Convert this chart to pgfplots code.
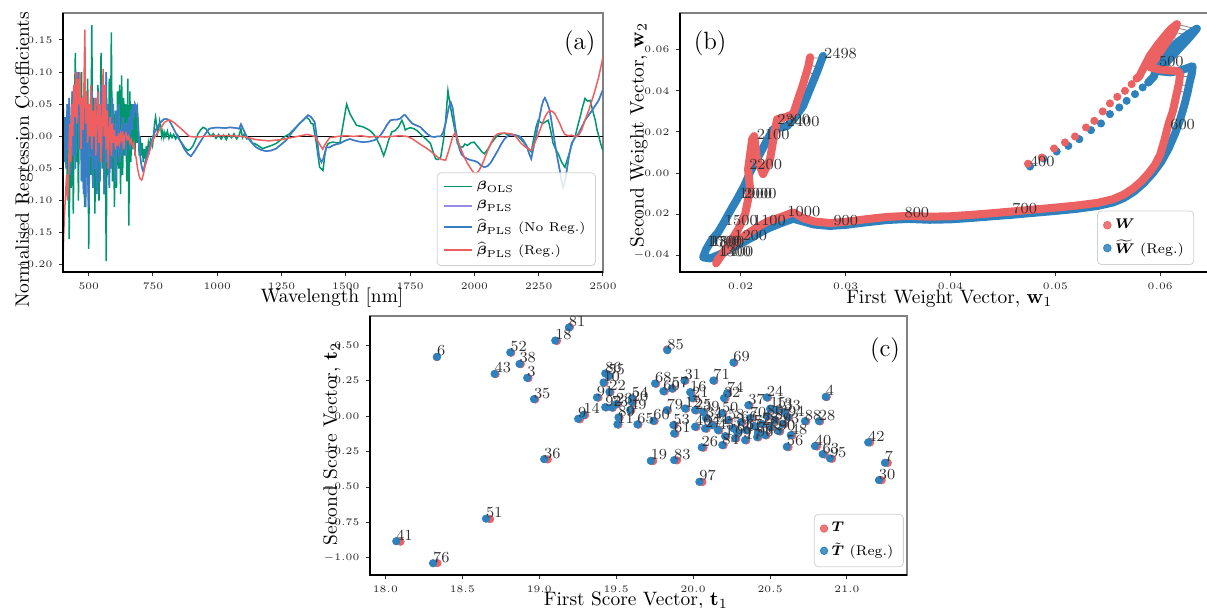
\documentclass[border=0pt]{standalone}
\usepackage{amsmath}
\usepackage{pgfplots}
\usepackage{pgfplotstable}
\pgfplotsset{compat=1.18}

\definecolor{olsgreen}{RGB}{0,150,110}
\definecolor{plspurple}{RGB}{150,140,230}
\definecolor{plsblue}{RGB}{55,125,195}
\definecolor{regred}{RGB}{240,95,95}
\definecolor{wred}{RGB}{236,98,98}
\definecolor{wblue}{RGB}{45,130,190}

% (a) regression coefficients, wavelength vs value
\pgfplotstableread{
w b
400 0.000
404 0.020
408 -0.030
412 0.030
416 -0.060
420 0.050
424 -0.160
428 0.020
432 -0.080
436 0.060
440 -0.120
444 0.030
448 0.130
452 -0.040
456 0.060
460 -0.100
464 0.080
468 -0.020
472 0.100
476 -0.060
480 0.050
484 -0.110
488 0.070
492 -0.030
496 0.090
500 -0.175
504 0.020
508 -0.060
512 0.173
516 -0.080
520 0.060
524 -0.120
528 0.040
532 -0.050
536 0.080
540 -0.100
544 0.020
548 0.130
552 -0.050
556 0.070
560 -0.090
564 0.030
568 -0.194
572 0.050
576 -0.060
580 0.090
584 -0.040
588 0.162
592 -0.070
596 0.050
600 -0.110
604 0.040
608 -0.080
612 0.070
616 -0.050
620 0.080
624 -0.090
628 0.095
632 -0.060
636 0.060
640 -0.030
644 0.050
648 -0.070
652 0.090
656 -0.139
660 0.070
664 -0.040
668 0.050
672 -0.020
676 0.050
680 -0.030
684 0.045
688 -0.010
692 0.030
696 -0.030
700 0.000
704 -0.030
708 -0.010
712 -0.040
716 -0.020
720 -0.035
724 -0.015
728 -0.030
732 -0.010
736 -0.020
740 -0.005
748 -0.015
752 0.000
756 0.020
760 0.030
764 0.018
768 0.005
772 0.012
776 0.024
780 0.015
784 0.000
788 0.008
792 -0.002
796 0.006
800 0.000
806 0.008
812 -0.003
818 0.004
824 -0.002
830 0.003
838 -0.004
846 0.002
855 -0.006
865 -0.012
875 -0.018
885 -0.022
895 -0.020
905 -0.015
915 -0.006
925 0.004
935 0.010
945 0.014
955 0.012
965 0.006
975 0.000
985 0.004
995 -0.003
1005 0.003
1015 -0.004
1025 0.002
1035 -0.005
1045 0.003
1055 -0.002
1065 0.004
1075 -0.004
1085 0.002
1092 0.012
1098 -0.002
1105 0.004
1115 -0.004
1125 -0.002
1135 -0.010
1150 -0.012
1165 -0.016
1177 -0.019
1190 -0.017
1205 -0.015
1218 -0.013
1229 -0.011
1245 -0.006
1260 -0.001
1281 0.004
1300 0.012
1320 0.020
1335 0.025
1346 0.030
1358 0.026
1365 0.020
1372 0.020
1385 -0.010
1398 -0.048
1411 -0.053
1418 -0.030
1424 -0.017
1430 -0.012
1437 -0.010
1450 -0.009
1465 -0.010
1477 -0.010
1490 0.020
1503 0.050
1516 0.035
1530 0.025
1542 0.017
1555 0.016
1568 0.0145
1581 0.012
1594 0.009
1607 0.004
1620 -0.004
1633 -0.015
1647 -0.030
1656 -0.020
1666 -0.006
1679 0.007
1692 0.009
1705 0.015
1718 0.025
1725 0.018
1731 0.010
1740 0.012
1751 0.0135
1764 0.012
1777 0.009
1790 0.004
1803 -0.001
1816 -0.006
1829 -0.011
1840 -0.025
1849 -0.035
1860 -0.036
1869 -0.032
1880 -0.005
1888 0.025
1897 0.071
1905 0.050
1914 0.030
1924 0.010
1934 -0.011
1944 -0.016
1954 -0.017
1963 -0.012
1973 -0.014
1986 -0.010
1999 -0.009
2009 -0.014
2019 -0.019
2029 -0.024
2039 -0.027
2052 -0.020
2065 -0.011
2078 -0.004
2091 0.0015
2104 0.004
2117 0.005
2130 0.002
2143 0.004
2156 0.001
2169 0.000
2182 -0.005
2195 -0.011
2208 -0.018
2221 -0.024
2230 -0.005
2240 0.015
2248 0.025
2257 0.022
2267 0.020
2277 0.023
2287 0.025
2296 0.010
2306 -0.011
2316 -0.020
2326 -0.027
2339 -0.040
2352 -0.048
2362 -0.035
2372 -0.022
2381 -0.010
2391 -0.001
2401 0.015
2411 0.030
2420 0.045
2430 0.059
2440 0.055
2450 0.056
2460 0.040
2470 0.025
2477 0.010
2483 0.0015
2490 -0.010
2496 -0.018
2500 -0.022
}\tols

\pgfplotstableread{
w b
400 0.070
404 -0.040
408 0.030
412 -0.050
416 0.050
420 -0.020
424 0.060
428 -0.060
432 0.020
436 0.070
440 -0.030
444 0.080
448 -0.050
452 0.100
456 0.040
460 0.100
464 -0.020
468 0.060
472 -0.070
476 0.030
480 -0.090
484 0.050
488 -0.110
492 0.020
496 -0.060
500 -0.110
504 0.040
508 -0.030
512 0.070
516 -0.080
520 0.030
524 -0.050
528 0.060
532 -0.090
536 0.010
540 0.050
544 -0.070
548 0.080
552 -0.020
556 0.060
560 -0.090
564 0.020
568 0.100
572 -0.040
576 0.050
580 -0.080
584 0.030
588 -0.050
592 0.060
596 -0.030
600 0.020
604 -0.070
608 0.040
612 -0.020
616 0.050
620 -0.040
624 0.010
628 -0.030
632 0.030
636 -0.010
640 0.020
644 -0.030
648 0.020
652 0.000
656 0.030
660 -0.020
664 0.040
668 0.010
672 0.050
676 0.030
680 0.050
684 0.045
688 0.048
692 0.020
696 -0.010
700 -0.030
705 -0.045
710 -0.053
715 -0.050
720 -0.040
730 -0.025
741 -0.011
755 0.005
767 0.015
780 0.022
793 0.027
805 0.027
813 0.025
830 0.012
845 0.000
860 -0.010
871 -0.019
885 -0.027
897 -0.031
910 -0.024
930 -0.011
950 0.002
969 0.012
990 0.0135
1010 0.0135
1030 0.013
1050 0.014
1073 0.013
1085 0.012
1092 0.019
1100 0.012
1112 0.0015
1130 -0.008
1151 -0.017
1170 -0.021
1190 -0.023
1210 -0.022
1229 -0.019
1250 -0.012
1268 -0.006
1290 0.006
1320 0.020
1340 0.028
1353 0.033
1365 0.030
1379 0.022
1390 -0.010
1396 -0.032
1405 -0.040
1412 -0.035
1424 -0.017
1437 -0.017
1450 -0.014
1465 -0.012
1477 -0.011
1495 -0.007
1516 -0.004
1530 -0.006
1550 -0.008
1568 -0.009
1590 -0.008
1610 -0.006
1620 -0.004
1635 0.002
1647 0.009
1660 0.018
1673 0.025
1686 0.026
1699 0.026
1712 0.028
1725 0.033
1731 0.033
1745 0.026
1758 0.020
1775 0.017
1790 0.0145
1803 0.009
1816 0.004
1830 0.000
1843 -0.001
1856 0.000
1869 0.000
1878 0.006
1888 0.020
1900 0.045
1908 0.053
1915 0.045
1927 0.010
1940 -0.017
1950 -0.028
1960 -0.032
1973 -0.035
1986 -0.037
1999 -0.038
2012 -0.040
2025 -0.045
2039 -0.048
2052 -0.046
2065 -0.040
2078 -0.031
2091 -0.022
2104 -0.012
2117 -0.004
2130 0.001
2143 0.003
2160 0.002
2176 0.000
2190 -0.006
2202 -0.014
2212 -0.026
2221 -0.035
2231 -0.015
2241 0.004
2251 0.025
2261 0.046
2268 0.056
2274 0.060
2283 0.052
2293 0.040
2303 0.015
2313 -0.011
2322 -0.032
2332 -0.053
2339 -0.070
2345 -0.079
2352 -0.070
2359 -0.053
2368 -0.030
2378 -0.011
2391 -0.002
2404 0.004
2417 0.014
2430 0.025
2444 0.033
2457 0.040
2470 0.048
2483 0.056
2493 0.066
2500 0.073
}\tpls

\pgfplotstableread{
w b
400 -0.190
403 -0.150
406 -0.120
410 -0.090
414 -0.060
418 -0.100
422 -0.050
426 0.020
430 -0.040
434 0.050
438 0.000
442 0.080
446 0.030
450 0.100
454 0.020
458 0.090
462 0.050
466 0.100
470 -0.020
474 0.060
478 0.010
482 0.090
485 0.166
488 0.020
492 0.070
496 -0.010
500 0.050
504 0.000
508 0.080
512 -0.020
516 0.040
520 0.000
524 0.060
528 -0.030
532 0.030
536 0.070
540 -0.010
544 0.050
548 -0.040
552 0.020
556 0.105
560 0.000
564 0.080
568 -0.020
572 0.040
576 -0.050
580 0.010
584 0.030
588 -0.030
592 0.020
596 -0.010
600 0.010
604 -0.020
608 0.000
612 -0.015
616 0.005
620 -0.010
624 0.003
628 -0.005
632 0.008
636 -0.020
640 0.000
645 0.005
650 -0.005
655 0.000
660 -0.010
665 -0.005
670 -0.015
675 -0.010
680 -0.025
685 -0.035
690 -0.050
695 -0.060
700 -0.066
706 -0.068
712 -0.060
720 -0.045
734 -0.027
750 -0.005
773 0.009
795 0.022
813 0.026
830 0.022
852 0.0145
870 0.008
891 0.000
920 -0.001
950 0.000
1000 0.001
1050 0.001
1100 0.000
1150 -0.005
1200 -0.007
1250 -0.005
1300 -0.001
1350 0.003
1380 0.000
1395 -0.010
1410 -0.020
1420 -0.012
1437 -0.002
1470 0.000
1500 0.001
1530 0.000
1560 0.001
1590 -0.001
1620 0.000
1650 -0.001
1680 0.000
1710 0.001
1738 0.000
1760 -0.004
1777 -0.009
1796 -0.014
1816 -0.019
1836 -0.025
1856 -0.032
1872 -0.036
1888 -0.037
1898 -0.025
1908 -0.011
1916 0.000
1924 0.005
1932 -0.002
1940 -0.012
1950 -0.022
1960 -0.032
1973 -0.042
1986 -0.050
1996 -0.056
2006 -0.058
2016 -0.054
2025 -0.048
2038 -0.036
2052 -0.022
2065 -0.010
2078 0.000
2091 0.004
2104 0.005
2120 0.005
2143 0.004
2160 0.000
2182 -0.011
2200 -0.017
2221 -0.022
2235 -0.010
2254 0.009
2264 0.020
2274 0.030
2284 0.037
2293 0.040
2303 0.039
2313 0.035
2322 0.028
2332 0.020
2342 0.010
2352 0.003
2365 0.001
2378 0.002
2391 0.000
2404 0.001
2417 0.010
2430 0.025
2444 0.040
2457 0.056
2470 0.073
2483 0.092
2495 0.114
2500 0.124
}\treg

% (b) weight vectors
\pgfplotstableread{
x y
0.04740 0.00457
0.04870 0.00759
0.04988 0.01197
0.05092 0.01490
0.05188 0.01782
0.05293 0.02220
0.05372 0.02542
0.05452 0.03000
0.05521 0.03389
0.05591 0.03711
0.05664 0.04003
0.05728 0.04329
0.05776 0.04607
}\wrs

\pgfplotstableread{
x y
0.04759 0.00320
0.04886 0.00710
0.05013 0.01051
0.05124 0.01324
0.05229 0.01650
0.05340 0.02089
0.05436 0.02415
0.05521 0.02868
0.05610 0.03194
0.05680 0.03516
0.05760 0.03842
0.05833 0.04167
0.05887 0.04412
}\wbs

\pgfplotstableread{
x y
0.05776 0.04607
0.0580 0.0470
0.0585 0.0520
0.0590 0.0570
0.0597 0.0620
0.0604 0.0665
0.0610 0.0700
0.0616 0.0725
0.0612 0.0680
0.0604 0.0620
0.0596 0.0560
0.0590 0.0515
0.0598 0.0505
0.0608 0.0500
0.0616 0.0497
0.0619 0.0485
0.0618 0.0440
0.0615 0.0370
0.0612 0.0300
0.0608 0.0240
0.0604 0.0160
0.0600 0.0090
0.0595 0.0040
0.0589 0.0000
0.0582 -0.0040
0.0574 -0.0075
0.0565 -0.0105
0.0555 -0.0127
0.0540 -0.0145
0.0520 -0.0158
0.0500 -0.0168
0.0480 -0.0177
0.0460 -0.0186
0.0440 -0.0195
0.0420 -0.0203
0.0400 -0.0210
0.0380 -0.0212
0.0360 -0.0208
0.0340 -0.0213
0.0320 -0.0224
0.0300 -0.0237
0.0285 -0.0243
0.0270 -0.0235
0.0260 -0.0220
0.0250 -0.0191
0.02376 -0.0215
0.02261 -0.0234
0.02156 -0.0264
0.02042 -0.0303
0.01927 -0.0346
0.01841 -0.0385
0.01784 -0.0419
0.01765 -0.0439
0.01822 -0.0395
0.01898 -0.0337
0.01975 -0.0274
0.02042 -0.0200
0.02090 -0.0078
0.02070 0.0018
0.02109 0.0165
0.02128 0.0180
0.02156 0.0068
0.02213 -0.0005
0.02280 0.0068
0.02328 0.0214
0.02347 0.0262
0.02423 0.0272
0.02500 0.0287
0.02547 0.0360
0.02595 0.0433
0.02643 0.0516
0.02662 0.0564
}\wrd

\pgfplotstableread{
x y
0.05887 0.04412
0.0594 0.0470
0.0597 0.0530
0.0605 0.0580
0.0615 0.0630
0.0625 0.0670
0.0635 0.0703
0.0628 0.0660
0.0617 0.0600
0.0607 0.0545
0.0600 0.0495
0.0610 0.0490
0.0620 0.0500
0.0628 0.0515
0.0631 0.0520
0.0630 0.0480
0.0628 0.0440
0.0626 0.0390
0.0623 0.0330
0.0619 0.0260
0.0614 0.0190
0.0608 0.0120
0.0601 0.0055
0.0593 0.0000
0.0584 -0.0050
0.0575 -0.0090
0.0565 -0.0122
0.0555 -0.0143
0.0540 -0.0160
0.0520 -0.0174
0.0500 -0.0184
0.0480 -0.0193
0.0460 -0.0202
0.0440 -0.0210
0.0420 -0.0218
0.0400 -0.0225
0.0380 -0.0227
0.0360 -0.0223
0.0340 -0.0228
0.0320 -0.0239
0.0300 -0.0252
0.0285 -0.0257
0.0270 -0.0250
0.0260 -0.0236
0.0250 -0.0222
0.02376 -0.0245
0.02261 -0.0269
0.02156 -0.0298
0.02042 -0.0332
0.01927 -0.0361
0.01803 -0.0395
0.01708 -0.0415
0.01641 -0.0410
0.01670 -0.0371
0.01727 -0.0322
0.01785 -0.0288
0.01841 -0.0239
0.01898 -0.0186
0.01965 -0.0127
0.02032 -0.0064
0.02089 0.0004
0.02156 0.0068
0.02232 0.0141
0.02308 0.0214
0.02441 0.0228
0.02518 0.0272
0.02594 0.0326
0.02661 0.0409
0.02728 0.0492
0.02785 0.0570
}\wbd

\pgfplotstableread{
x y
0.0597 0.0620
0.0612 0.0600
nan nan
0.0601 0.0645
0.0617 0.0625
nan nan
0.0605 0.0668
0.0622 0.0648
nan nan
0.0609 0.0690
0.0627 0.0670
nan nan
0.0613 0.0710
0.0631 0.0688
nan nan
0.0616 0.0724
0.0634 0.0702
nan nan
0.0619 0.0470
0.0630 0.0470
nan nan
0.0618 0.0430
0.0628 0.0425
nan nan
0.0617 0.0400
0.0627 0.0390
nan nan
0.0262 0.0500
0.0273 0.0470
nan nan
0.0264 0.0530
0.0276 0.0510
nan nan
0.0266 0.0560
0.0278 0.0560
nan nan
0.0258 0.0420
0.0268 0.0390
}\wgray

\pgfplotstableread{
x y l
0.02796 0.0551 2498
0.02350 0.0233 2300
0.02439 0.0222 2400
0.02153 0.01568 2100
0.02082 0.00140 2200
0.01986 -0.01272 1900
0.02029 -0.01272 2000
0.02446 -0.02165 1000
0.02885 -0.02573 900
0.03563 -0.02213 800
0.04591 -0.02003 700
0.04759 0.00272 400
0.05990 0.05143 500
0.06097 0.02055 600
0.02118 -0.02602 1100
0.01850 -0.02602 1500
0.01939 -0.03303 1200
0.01786 -0.04083 1300
0.01807 -0.04083 1400
0.01679 -0.03625 1600
0.01700 -0.03625 1700
0.01722 -0.03625 1800
}\wlab

% (c) score vectors: regularised (x,y) and plain (xr,yr)
\pgfplotstableread{
x y xr yr l
18.336 0.418 18.334 0.416 6
18.812 0.449 18.818 0.447 52
18.872 0.368 18.880 0.366 38
18.710 0.298 18.716 0.296 43
18.922 0.270 18.930 0.268 3
18.966 0.120 18.974 0.118 35
19.104 0.533 19.115 0.530 18
19.193 0.625 19.200 0.628 81
19.253 -0.019 19.265 -0.022 9
19.288 0.009 19.298 0.007 14
19.032 -0.303 19.055 -0.305 36
18.654 -0.723 18.680 -0.726 51
18.071 -0.882 18.098 -0.885 41
18.310 -1.037 18.338 -1.036 76
19.375 0.132 19.385 0.130 91
19.833 0.465 19.830 0.470 85
20.262 0.378 20.268 0.376 69
20.132 0.251 20.138 0.249 71
19.944 0.251 19.950 0.249 31
19.753 0.230 19.760 0.228 68
19.807 0.176 19.815 0.174 60
19.862 0.195 19.868 0.193 57
19.981 0.169 19.988 0.166 16
19.994 0.127 20.002 0.125 21
20.221 0.162 20.228 0.160 74
20.201 0.127 20.210 0.125 32
20.359 0.077 20.366 0.075 37
20.479 0.132 20.486 0.130 24
20.862 0.136 20.868 0.134 4
20.727 -0.035 20.735 -0.037 88
20.818 -0.035 20.826 -0.037 28
20.593 0.030 20.600 0.028 33
20.635 -0.134 20.645 -0.136 48
20.609 -0.216 20.620 -0.219 56
20.792 -0.211 20.805 -0.214 40
20.842 -0.268 20.855 -0.271 63
20.890 -0.298 20.903 -0.301 95
21.138 -0.185 21.150 -0.186 42
21.247 -0.329 21.265 -0.330 7
21.208 -0.451 21.225 -0.452 30
20.056 -0.220 20.068 -0.223 26
20.190 -0.204 20.198 -0.206 84
19.725 -0.315 19.740 -0.317 19
19.877 -0.310 19.895 -0.312 83
20.041 -0.463 20.060 -0.465 97
19.638 -0.058 19.645 -0.060 65
19.742 -0.033 19.750 -0.035 60
19.508 -0.058 19.515 -0.060 11
19.872 -0.063 19.880 -0.065 53
19.877 -0.122 19.885 -0.124 61
20.013 -0.075 20.022 -0.077 46
20.078 -0.087 20.088 -0.089 27
19.829 0.042 19.836 0.040 79
19.948 0.054 19.955 0.052 12
20.013 0.042 20.020 0.040 25
20.065 0.028 20.072 0.026 39
19.429 0.301 19.436 0.299 86
19.450 0.284 19.457 0.282 55
19.418 0.237 19.425 0.235 10
19.456 0.171 19.463 0.169 22
19.429 0.063 19.436 0.061 92
19.472 0.061 19.479 0.059 73
19.500 0.085 19.507 0.083 23
19.602 0.125 19.609 0.123 54
19.602 0.099 19.609 0.097 20
19.591 0.042 19.598 0.040 49
19.515 -0.009 19.522 -0.011 89
20.084 -0.014 20.092 -0.016 34
20.123 -0.063 20.131 -0.065 44
20.162 -0.099 20.170 -0.101 45
20.188 0.021 20.196 0.019 50
20.227 -0.028 20.235 -0.030 58
20.260 -0.085 20.268 -0.087 59
20.286 -0.113 20.294 -0.115 64
20.312 -0.042 20.320 -0.044 66
20.344 -0.099 20.352 -0.101 67
20.370 -0.014 20.378 -0.016 70
20.396 -0.070 20.404 -0.072 72
20.422 -0.120 20.430 -0.122 77
20.448 -0.056 20.456 -0.058 78
20.481 0.000 20.489 -0.002 80
20.506 -0.077 20.514 -0.079 82
20.532 -0.028 20.540 -0.030 87
20.558 -0.106 20.566 -0.108 90
20.584 -0.056 20.592 -0.058 93
20.617 -0.007 20.625 -0.009 94
20.338 -0.169 20.346 -0.171 17
20.416 -0.148 20.424 -0.150 96
20.468 -0.134 20.476 -0.136 98
20.273 -0.155 20.281 -0.157 99
20.208 -0.141 20.216 -0.143 1
20.540 0.045 20.548 0.043 13
20.500 0.052 20.508 0.050 15
}\tsc

\pgfplotsset{
  panel/.style={
    scale only axis, anchor=south west, height=129.5pt,
    scaled ticks=false, tick align=outside, tick pos=left,
    major tick length=1.8pt, tick style={black!80, line width=0.5pt},
    tick label style={font=\fontsize{4.4}{5}\selectfont, text=black!85},
    label style={font=\fontsize{9.7}{11}\selectfont},
    axis line style={black!50, line width=0.7pt},
    after end axis/.code={\draw[black, line width=0.7pt] (rel axis cs:0,1) -- (rel axis cs:0,0) -- (rel axis cs:1,0);},
    legend cell align=left,
    legend style={draw=black!18, rounded corners=2pt, fill=white, fill opacity=0.85,
      text opacity=1, draw opacity=1, font=\fontsize{7}{8}\selectfont},
  },
  ptlabels/.style={only marks, mark=*, mark size=0pt, mark options={draw=none, fill=none},
    nodes near coords={\rlap{\smash{\pgfplotspointmeta}}}, point meta=explicit symbolic,
    every node near coord/.append style={inner sep=0pt, outer sep=0pt, text=black!80,
      font=\fontsize{7.7}{8}\selectfont}},
}

\begin{document}
\begin{tikzpicture}
% ---------- (a) ----------
\begin{axis}[panel, at={(31.5pt,168pt)}, width=270pt,
  xmin=400, xmax=2500, ymin=-0.211, ymax=0.192,
  xtick={500,750,1000,1250,1500,1750,2000,2250,2500},
  ytick={-0.2,-0.15,-0.1,-0.05,0,0.05,0.1,0.15},
  xticklabel style={/pgf/number format/1000 sep={}},
  yticklabel style={/pgf/number format/.cd, fixed, fixed zerofill, precision=2},
  xlabel={Wavelength [nm]}, ylabel={Normalised Regression Coefficients},
  xlabel style={at={(axis description cs:0.498,-0.100)}, anchor=center},
  ylabel style={at={(axis description cs:-0.072,0.432)}, anchor=center},
  legend style={at={(0.987,0.023)}, anchor=south east, font=\fontsize{6.4}{7.5}\selectfont,
    nodes={inner sep=2pt}},
  legend image code/.code={\draw[#1, line width=0.9pt] (0pt,0pt) -- (14pt,0pt);},
]
\addplot[black, line width=0.6pt, forget plot] coordinates {(400,0) (2500,0)};
\addplot[olsgreen, line width=0.75pt] table[x=w, y=b] {\tols};
\addlegendentry{$\boldsymbol{\beta}_{\mathrm{OLS}}$}
\addplot[plspurple, line width=0.75pt] table[x=w, y=b] {\tpls};
\addlegendentry{$\boldsymbol{\beta}_{\mathrm{PLS}}$}
\addplot[plsblue, line width=0.75pt] table[x=w, y=b] {\tpls};
\addlegendentry{$\widehat{\boldsymbol{\beta}}_{\mathrm{PLS}}$ (No Reg.)}
\addplot[regred, line width=0.75pt] table[x=w, y=b] {\treg};
\addlegendentry{$\widehat{\boldsymbol{\beta}}_{\mathrm{PLS}}$ (Reg.)}
\node[font=\fontsize{12.5}{14}\selectfont] at (rel axis cs:0.957,0.884) {(a)};
\end{axis}

% ---------- (b) ----------
\begin{axis}[panel, at={(340pt,168pt)}, width=264pt,
  xmin=0.01421, xmax=0.06456, ymin=-0.0481, ymax=0.0779,
  xtick={0.02,0.03,0.04,0.05,0.06}, ytick={-0.04,-0.02,0,0.02,0.04,0.06},
  ticklabel style={/pgf/number format/.cd, fixed, fixed zerofill, precision=2},
  xlabel={First Weight Vector, $\mathbf{w}_1$}, ylabel={Second Weight Vector, $\mathbf{w}_2$},
  xlabel style={at={(axis description cs:0.510,-0.104)}, anchor=center},
  ylabel style={at={(axis description cs:-0.078,0.529)}, anchor=center},
  legend style={at={(0.790,0.027)}, anchor=south west},
  unbounded coords=jump,
]
\addlegendimage{only marks, mark=*, mark size=1.9pt, wred}
\addlegendentry{$\boldsymbol{W}$}
\addlegendimage{only marks, mark=*, mark size=1.9pt, wblue}
\addlegendentry{$\widetilde{\boldsymbol{W}}$ (Reg.)}
\addplot[gray, line width=0.4pt, forget plot] table {\wgray};
\addplot[wblue, line width=4pt, line join=round, line cap=round, forget plot] table {\wbd};
\addplot[only marks, mark=*, mark size=1.8pt, wblue, forget plot] table {\wbs};
\addplot[wred, line width=4pt, line join=round, line cap=round, forget plot] table {\wrd};
\addplot[only marks, mark=*, mark size=1.8pt, wred, forget plot] table {\wrs};
\addplot[ptlabels, forget plot] table[x=x, y=y, meta=l] {\wlab};
\node[font=\fontsize{12.5}{14}\selectfont] at (rel axis cs:0.057,0.884) {(b)};
\end{axis}

% ---------- (c) ----------
\begin{axis}[panel, at={(185pt,16.5pt)}, width=268.5pt,
  xmin=17.90, xmax=21.39, ymin=-1.12, ymax=0.706,
  xtick={18,18.5,19,19.5,20,20.5,21}, ytick={-1,-0.75,-0.5,-0.25,0,0.25,0.5},
  xticklabel style={/pgf/number format/.cd, fixed, fixed zerofill, precision=1},
  yticklabel style={/pgf/number format/.cd, fixed, fixed zerofill, precision=2},
  xlabel={First Score Vector, $\mathbf{t}_1$}, ylabel={Second Score Vector, $\mathbf{t}_2$},
  xlabel style={at={(axis description cs:0.495,-0.062)}, anchor=north, inner sep=0pt},
  ylabel style={at={(axis description cs:-0.071,0.506)}, anchor=center},
  legend style={at={(0.994,0.030)}, anchor=south east},
]
\addplot[only marks, mark=*, mark size=1.85pt, wred] table[x=xr, y=yr] {\tsc};
\addlegendentry{$\boldsymbol{T}$}
\addplot[only marks, mark=*, mark size=1.85pt, wblue] table[x=x, y=y] {\tsc};
\addlegendentry{$\tilde{\boldsymbol{T}}$ (Reg.)}
\addplot[ptlabels, forget plot] table[x=x, y=y, meta=l] {\tsc};
\node[font=\fontsize{12.5}{14}\selectfont] at (rel axis cs:0.959,0.869) {(c)};
\end{axis}

\pgfresetboundingbox
\path[use as bounding box] (0,0) rectangle (603.5pt,304pt);
\end{tikzpicture}
\end{document}
